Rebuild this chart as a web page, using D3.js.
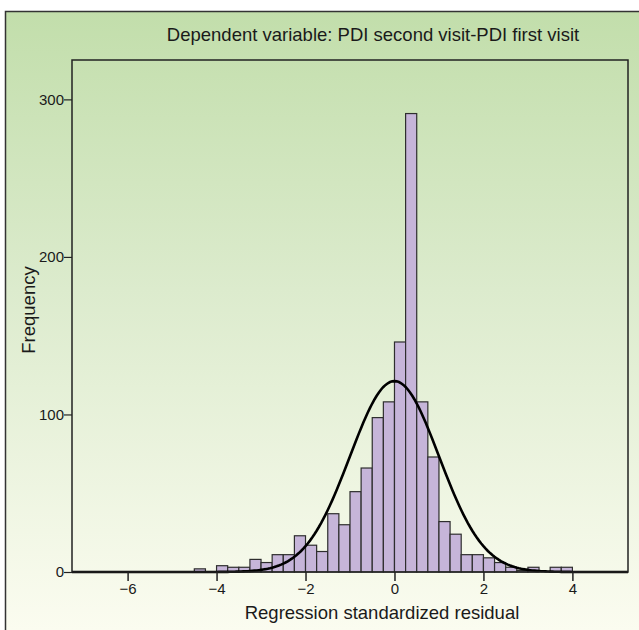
<!DOCTYPE html>
<html lang="en">
<head>
<meta charset="UTF-8">
<script src="https://cdn.jsdelivr.net/npm/d3@7"></script>
<title>Histogram</title>
<style>
  body { margin: 0; background: #fff; }
  svg text { font-family: "Liberation Sans", Arial, sans-serif; fill: #1a1a1a; }
</style>
</head>
<body>
<div id="chart"></div>
<script>
// bin left edges (width 0.25) and counts
var binStart = [-4.5, -4.25, -4, -3.75, -3.5, -3.25, -3, -2.75, -2.5, -2.25,
                -2, -1.75, -1.5, -1.25, -1, -0.75, -0.5, -0.25, 0, 0.25,
                0.5, 0.75, 1, 1.25, 1.5, 1.75, 2, 2.25, 2.5, 2.75,
                3, 3.25, 3.5, 3.75];
var counts = [2, 0, 4, 3, 3, 8, 6, 11, 11, 23,
              17, 13, 37, 30, 51, 66, 98, 108, 146, 291,
              108, 73, 32, 24, 11, 11, 9, 6, 3, 1,
              3, 0, 3, 3];
var binWidth = 0.25;
var xTicks = [-6, -4, -2, 0, 2, 4];
var yTicks = [0, 100, 200, 300];
var residMean = 0, residSd = 1;

var data = binStart.map(function(s, i) { return {x0: s, x1: s + binWidth, n: counts[i]}; });
var total = d3.sum(counts);

var W = 639, H = 630;
var box = {left: 72, right: 628, top: 60, bottom: 572};

var svg = d3.select("#chart").append("svg")
  .attr("width", W).attr("height", H);

var grad = svg.append("defs").append("linearGradient")
  .attr("id", "bg").attr("gradientUnits", "userSpaceOnUse")
  .attr("x1", 0).attr("y1", 11).attr("x2", 0).attr("y2", 630);
grad.append("stop").attr("offset", "0%").attr("stop-color", "#c2deab");
grad.append("stop").attr("offset", "45%").attr("stop-color", "#dcebcd");
grad.append("stop").attr("offset", "100%").attr("stop-color", "#fbfcf0");

// outer panel
svg.append("rect")
  .attr("x", 5.5).attr("y", 11.5).attr("width", 700).attr("height", 700)
  .attr("fill", "url(#bg)").attr("stroke", "#333").attr("stroke-width", 1.5);

var x = d3.scaleLinear().domain([-7.25, 5.25]).range([box.left, box.right]);
var y = d3.scaleLinear().domain([0, 325]).range([box.bottom, box.top]);

// bars
svg.selectAll("rect.bar")
  .data(data)
  .enter().append("rect")
    .attr("class", "bar")
    .attr("x", function(d) { return x(d.x0); })
    .attr("width", function(d) { return x(d.x1) - x(d.x0); })
    .attr("y", function(d) { return y(d.n); })
    .attr("height", function(d) { return y(0) - y(d.n); })
    .attr("fill", "#c6b5d9")
    .attr("stroke", "#2e2e2e")
    .attr("stroke-width", 1.2);

// normal curve scaled to the histogram
var curve = d3.range(-7.25, 5.26, 0.05).map(function(v) {
  var z = (v - residMean) / residSd;
  return {x: v, y: total * binWidth * Math.exp(-0.5 * z * z) / (residSd * Math.sqrt(2 * Math.PI))};
});
svg.append("path")
  .datum(curve)
  .attr("fill", "none")
  .attr("stroke", "#000")
  .attr("stroke-width", 2.6)
  .attr("d", d3.line().x(function(d) { return x(d.x); }).y(function(d) { return y(d.y); }));

// plot frame
svg.append("rect")
  .attr("x", box.left).attr("y", box.top)
  .attr("width", box.right - box.left).attr("height", box.bottom - box.top)
  .attr("fill", "none").attr("stroke", "#222").attr("stroke-width", 1.5);

var xAxis = svg.append("g")
  .attr("transform", "translate(0," + box.bottom + ")")
  .call(d3.axisBottom(x).tickValues(xTicks).tickSize(9).tickPadding(2));
xAxis.select(".domain").remove();
xAxis.selectAll("line").attr("stroke", "#222").attr("stroke-width", 1.5);
xAxis.selectAll("text").style("font-size", "15px");

var yAxis = svg.append("g")
  .attr("transform", "translate(" + box.left + ",0)")
  .call(d3.axisLeft(y).tickValues(yTicks).tickSize(8).tickPadding(0));
yAxis.select(".domain").remove();
yAxis.selectAll("line").attr("stroke", "#222").attr("stroke-width", 1.2);
yAxis.selectAll("text").style("font-size", "15px");

svg.append("text")
  .attr("x", 373).attr("y", 41)
  .attr("text-anchor", "middle")
  .style("font-size", "18.5px")
  .text("Dependent variable: PDI second visit-PDI first visit");

svg.append("text")
  .attr("x", 382).attr("y", 619)
  .attr("text-anchor", "middle")
  .style("font-size", "18.5px")
  .text("Regression standardized residual");

svg.append("text")
  .attr("transform", "translate(35,310)rotate(-90)")
  .attr("text-anchor", "middle")
  .style("font-size", "18.5px")
  .text("Frequency");
</script>
</body>
</html>
